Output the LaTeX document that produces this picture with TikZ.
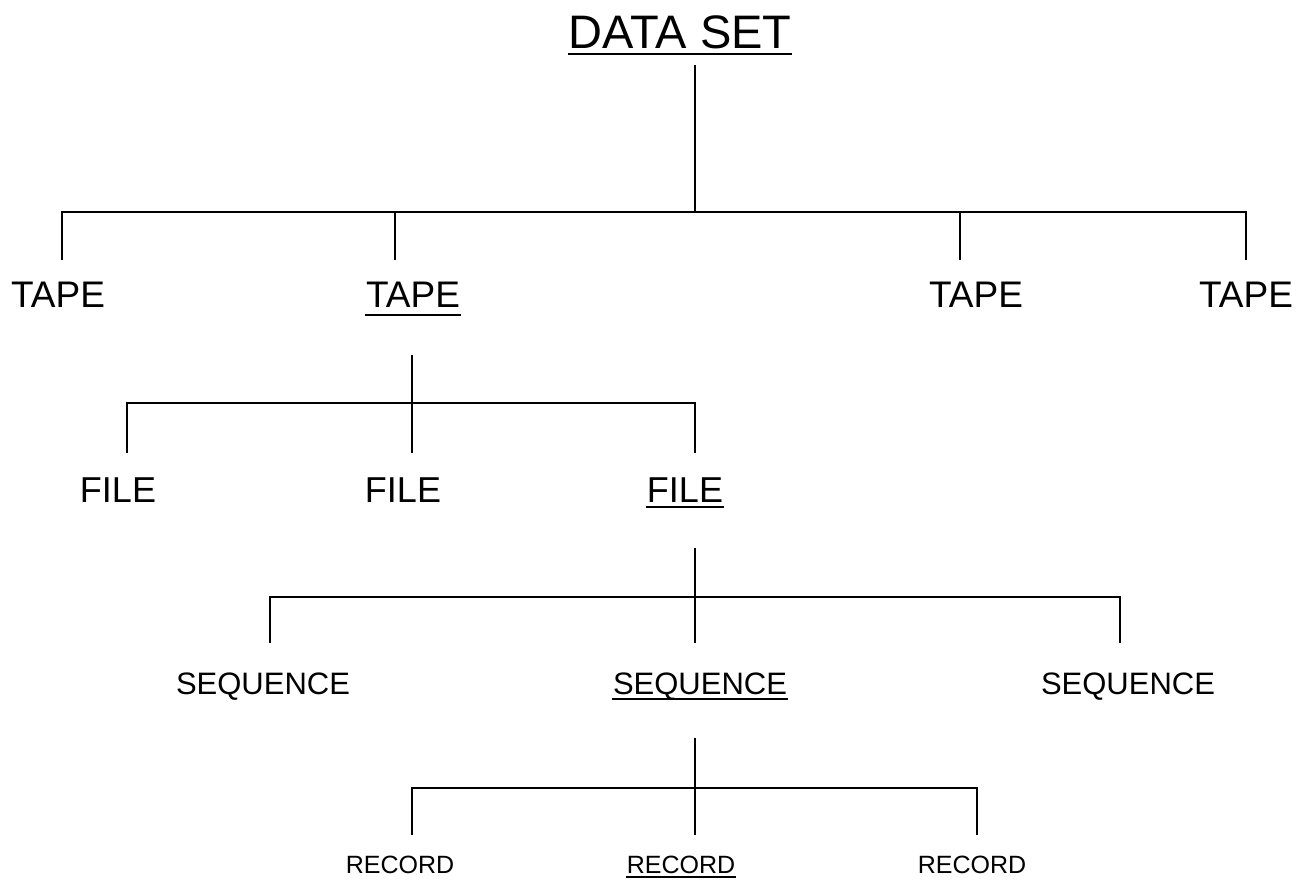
\documentclass[tikz,border=0pt]{standalone}
\usepackage{fontspec}
\setmainfont{Liberation Sans}

\begin{document}
\begin{tikzpicture}[x=1pt, y=-1pt, line width=1.2pt,
        every node/.style={inner sep=0pt, anchor=base},
        topname/.style={font=\fontsize{47}{51}\selectfont},
        tapename/.style={font=\fontsize{37}{41}\selectfont},
        filename/.style={font=\fontsize{36}{40}\selectfont},
        seqname/.style={font=\fontsize{31}{35}\selectfont},
        recname/.style={font=\fontsize{25}{29}\selectfont},
        uline/.style={line width=2pt}]

    \useasboundingbox (0,0) rectangle (1306,893);

    % the nodes
    \node[topname] (ds) at (680,49) {DATA SET};
    \node[tapename] (tape1) at (58,308) {TAPE};
    \node[tapename] (tape2) at (413,308) {TAPE};
    \node[tapename] (tape3) at (976,308) {TAPE};
    \node[tapename] (tape4) at (1246,308) {TAPE};
    \node[filename] (file1) at (118,502) {FILE};
    \node[filename] (file2) at (403,502) {FILE};
    \node[filename] (file3) at (685,502) {FILE};
    \node[seqname] (seq1) at (263,694) {SEQUENCE};
    \node[seqname] (seq2) at (700,694) {SEQUENCE};
    \node[seqname] (seq3) at (1128,694) {SEQUENCE};
    \node[recname] (rec1) at (400,873) {RECORD};
    \node[recname] (rec2) at (681,873) {RECORD};
    \node[recname] (rec3) at (972,873) {RECORD};

    % the chosen path is underlined
    \draw[uline] ([yshift=-5pt]ds.base west) -- ([yshift=-5pt]ds.base east);
    \draw[uline] ([yshift=-7pt]tape2.base west) -- ([yshift=-7pt]tape2.base east);
    \draw[uline] ([yshift=-5pt]file3.base west) -- ([yshift=-5pt]file3.base east);
    \draw[uline] ([yshift=-5pt]seq2.base west) -- ([yshift=-5pt]seq2.base east);
    \draw[uline] ([yshift=-4pt]rec2.base west) -- ([yshift=-4pt]rec2.base east);

    % data set -> tapes
    \coordinate (ds-stem) at (695,65);
    \coordinate (ds-bar) at (695,212);
    \coordinate (tape1-top) at (62,260);
    \coordinate (tape2-top) at (395,260);
    \coordinate (tape3-top) at (960,260);
    \coordinate (tape4-top) at (1246,260);
    \draw (ds-stem) -- (ds-bar);
    \draw (tape1-top) |- (tape4-top |- ds-bar) -- (tape4-top);
    \draw (tape2-top) -- (tape2-top |- ds-bar);
    \draw (tape3-top) -- (tape3-top |- ds-bar);

    % tape -> files
    \coordinate (tape2-stem) at (412,355);
    \coordinate (tape2-bar) at (412,403);
    \coordinate (file1-top) at (127,453);
    \coordinate (file2-top) at (412,453);
    \coordinate (file3-top) at (695,453);
    \draw (tape2-stem) -- (file2-top);
    \draw (file1-top) |- (file3-top |- tape2-bar) -- (file3-top);

    % file -> sequences
    \coordinate (file3-stem) at (695,548);
    \coordinate (file3-bar) at (695,597);
    \coordinate (seq1-top) at (270,643);
    \coordinate (seq2-top) at (695,643);
    \coordinate (seq3-top) at (1120,643);
    \draw (file3-stem) -- (seq2-top);
    \draw (seq1-top) |- (seq3-top |- file3-bar) -- (seq3-top);

    % sequence -> records
    \coordinate (seq2-stem) at (695,738);
    \coordinate (seq2-bar) at (695,788);
    \coordinate (rec1-top) at (412,835);
    \coordinate (rec2-top) at (695,835);
    \coordinate (rec3-top) at (977,835);
    \draw (seq2-stem) -- (rec2-top);
    \draw (rec1-top) |- (rec3-top |- seq2-bar) -- (rec3-top);
\end{tikzpicture}
\end{document}
